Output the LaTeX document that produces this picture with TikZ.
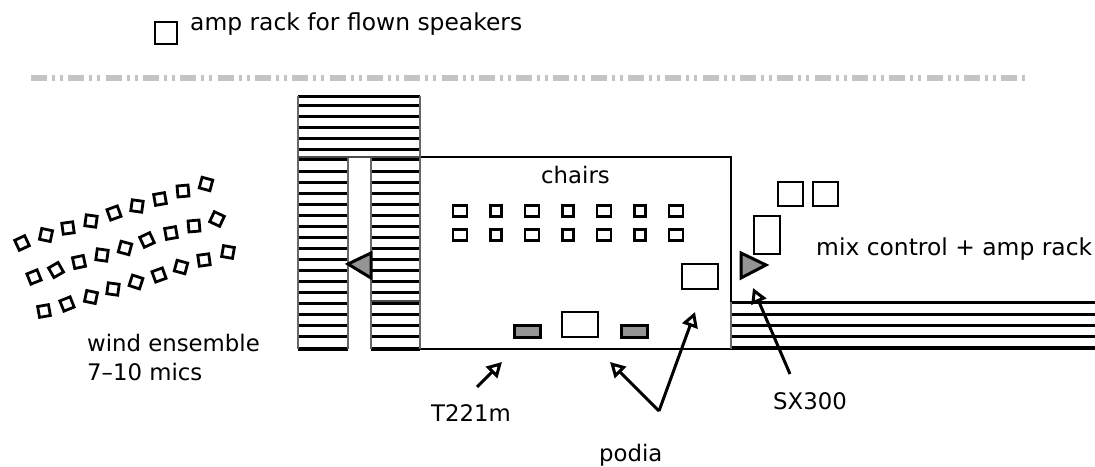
\documentclass[tikz,border=0pt]{standalone}
\usepackage{fontspec}
\setmainfont{DejaVu Sans}
\usetikzlibrary{arrows.meta}
\tikzset{x=1pt,y=-1pt,
  ln/.style={line width=2.4pt,black},
  tread/.style={line width=3pt,black},
  edge/.style={line width=2.2pt,black!60},
  box/.style={draw=black,line width=2.8pt,fill=white},
  grayfill/.style={draw=black,line width=3pt,fill=black!42},
  mic/.style={draw=black,line width=2.8pt,fill=white,minimum size=11pt,inner sep=0pt},
  lbl/.style={inner sep=0pt,anchor=base west,font=\fontsize{22.8pt}{26pt}\selectfont},
  lblb/.style={inner sep=0pt,anchor=base west,font=\fontsize{23.4pt}{26pt}\selectfont},
  arr/.style={line width=3pt,black,-{Triangle[open,fill=white,length=15pt,width=16pt,line width=3pt]}},
}
\newcommand{\micat}[3]{\node[mic,rotate=#3] at (#1,#2) {};}
\begin{document}
\begin{tikzpicture}
\useasboundingbox (0,0) rectangle (1095,466);
% legend
\draw[box] (155,22) rectangle (177,44);
\node[lblb] (legend) at (190,30) {amp rack for flown speakers};
% gray dashed line
\draw[line width=6.5pt,color=black!23,dash pattern=on 16pt off 5pt on 3pt off 5pt on 3pt off 5.32pt] (31,78) -- (1027,78);
% main room
\draw[ln] (420,157) rectangle (731,349);
% top bleacher
\foreach \y in {96,105,116,127,138,149}{\draw[tread] (298,\y) -- (420,\y);}
\draw[line width=3.4pt] (298,159) -- (348,159) (371,159) -- (420,159);
\draw[edge] (298,96) -- (298,158) (420,96) -- (420,158);
\draw[line width=1.2pt,black!70] (298,157) -- (420,157);
% columns
\foreach \y in {171,182,193,204,215,226,237,248,259,270,281,292,303,314,325,336}{
  \draw[tread] (298,\y) -- (348,\y);
  \draw[tread] (371,\y) -- (420,\y);}
\draw[line width=4pt] (298,348.5) -- (348,348.5) (371,348.5) -- (420,348.5);
\draw[edge] (298,158) -- (298,349) (348,158) -- (348,349) (371,158) -- (371,349) (420,158) -- (420,349);
\draw[line width=1.2pt,black!70] (371,301) -- (420,301);
% right bleacher
\draw[line width=3.6pt] (731,302.5) -- (1095,302.5);
\foreach \y in {314,325,336}{\draw[tread] (731,\y) -- (1095,\y);}
\draw[line width=4.2pt] (731,348) -- (1095,348);
\draw[edge] (731,302) -- (731,349);
% triangles
\draw[grayfill] (348,264) -- (371,253) -- (371,278) -- cycle;
\draw[grayfill] (741,253) -- (766,265) -- (741,278) -- cycle;
% chairs
\foreach \x/\w in {460/7,496/5.5,532/7,568/5.5,604/7,640/5.5,676/7}{
  \foreach \y in {211,235}{\draw[box] (\x-\w,\y-5.5) rectangle (\x+\w,\y+5.5);}}
\node[lbl] (chairs) at (541,183) {chairs};
% podia
\draw[box] (682,264) rectangle (718,289);
\draw[box] (562,312) rectangle (598,337);
\draw[grayfill] (514,325) rectangle (540,337);
\draw[grayfill] (621,325) rectangle (647,337);
% mix position
\draw[box] (778,182) rectangle (803,206);
\draw[box] (813,182) rectangle (838,206);
\draw[box] (754,216) rectangle (780,254);
\node[lblb] (mix) at (816,255) {mix control + amp rack};
% wind mics
\micat{22}{243}{25}\micat{46}{235}{-12}\micat{68}{228}{8}\micat{91}{221}{-8}\micat{114}{213}{20}\micat{137}{206}{-8}\micat{160}{199}{10}\micat{183}{191}{5}\micat{206}{184}{-15}
\micat{34}{277}{22}\micat{56}{270}{30}\micat{79}{262}{12}\micat{102}{255}{-8}\micat{125}{248}{-15}\micat{147}{240}{25}\micat{171}{233}{10}\micat{194}{226}{5}\micat{217}{219}{-25}
\micat{44}{311}{10}\micat{67}{304}{22}\micat{91}{297}{-12}\micat{113}{289}{-8}\micat{136}{282}{-18}\micat{159}{275}{20}\micat{181}{267}{-15}\micat{204}{260}{8}\micat{228}{252}{-10}
\node[lbl] (wind1) at (87,351) {wind ensemble};
\node[lbl] (wind2) at (87,380) {7–10 mics};
% labels and arrows
\node[lbl] (t221) at (431,421) {T221m};
\node[lbl] (podia) at (599,461) {podia};
\node[lbl] (sx) at (773,409) {SX300};
\coordinate (t0) at (477,387);
\coordinate (t1) at (502,362);
\coordinate (p0) at (659,411);
\coordinate (p1) at (610,362);
\coordinate (p2) at (695,312);
\coordinate (s0) at (790,374);
\coordinate (s1) at (753,288);
\draw[arr] (t0) -- (t1);
\draw[arr] (p0) -- (p1);
\draw[arr] (p0) -- (p2);
\draw[arr] (s0) -- (s1);
\end{tikzpicture}
\end{document}
